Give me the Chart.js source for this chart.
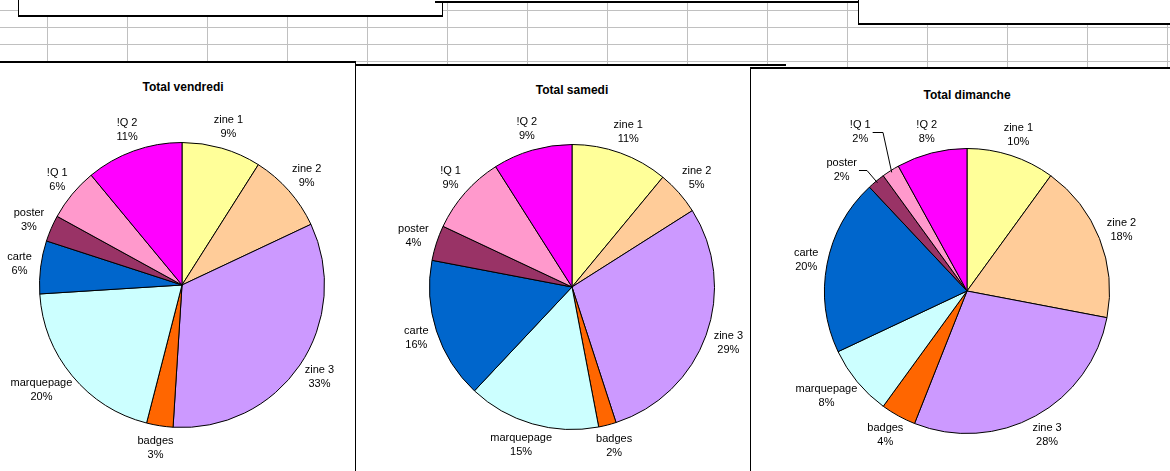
<!DOCTYPE html>
<html>
<head>
<meta charset="utf-8">
<script src="https://cdn.jsdelivr.net/npm/chart.js@4"></script>
<style>
  body { margin: 0; width: 1170px; height: 471px; overflow: hidden; position: relative;
         background-color: #fff;
         background-image:
           linear-gradient(to right, #c0c0c0 1px, transparent 1px),
           linear-gradient(to bottom, #c0c0c0 1px, transparent 1px);
         background-size: 80px 17px;
         background-position: 47px 10px;
         font-family: "Liberation Sans", Arial, sans-serif; }
  .box { position: absolute; background: #fff; border: 1px solid #000; box-sizing: border-box; }
  .panel { position: absolute; background: #fff; border-top: 2px solid #000; border-left: 1px solid #000; }
  .title { position: absolute; font-weight: bold; font-size: 12px; width: 300px; text-align: center; }
  canvas { position: absolute; left: 0; top: 0; }
</style>
</head>
<body>
<div class="box" style="left:18px;top:-2px;width:425px;height:19px;border-width:0 1px 2px 1px;"></div>
<div class="box" style="left:435px;top:-2px;width:424px;height:5px;border-width:0 0 2px 0;"></div>
<div class="box" style="left:858px;top:-2px;width:320px;height:27px;border-width:0 0 2px 1px;"></div>

<div class="panel" style="left:-1px;top:61px;width:356px;height:420px;border-left:0;border-right:1px solid #000;">
  <div class="title" style="left:34px;top:17px;">Total vendredi</div>
  <canvas id="c1"></canvas>
</div>
<div class="panel" style="left:355px;top:64px;width:430px;height:420px;">
  <div class="title" style="left:66px;top:17px;">Total samedi</div>
  <canvas id="c2"></canvas>
</div>
<div class="panel" style="left:750px;top:67px;width:430px;height:420px;">
  <div class="title" style="left:66px;top:19px;">Total dimanche</div>
  <canvas id="c3"></canvas>
</div>

<script>
// categories and colours (clockwise from the top)
const categories = ["zine 1", "zine 2", "zine 3", "badges", "marquepage", "carte", "poster", "!Q 1", "!Q 2"];
const sliceColors = ["#FFFF99", "#FFCC99", "#CC99FF", "#FF6600", "#CCFFFF", "#0066CC", "#993366", "#FF99CC", "#FF00FF"];

// percentages
const vendredi = [9, 9, 33, 3, 20, 6, 3, 6, 11];
const samedi = [11, 5, 29, 2, 15, 16, 4, 9, 9];
const dimanche = [10, 18, 28, 4, 8, 20, 2, 2, 8];

// draws "name / nn%" outside each slice, with leader lines for moved labels
const outsideLabels = {
    id: "outsideLabels",
    afterDraw(chart, args, opts) {
        const ctx = chart.ctx;
        const meta = chart.getDatasetMeta(0);
        const data = chart.data.datasets[0].data;
        const total = data.reduce((a, b) => a + b, 0);
        const moved = opts.moved || {};
        ctx.save();
        ctx.font = "11px 'Liberation Sans', Arial, sans-serif";
        ctx.fillStyle = "#000";
        ctx.strokeStyle = "#000";
        ctx.lineWidth = 1;
        ctx.textAlign = "center";
        ctx.textBaseline = "middle";
        meta.data.forEach((arc, i) => {
            const name = chart.data.labels[i];
            const pct = Math.round(data[i] / total * 100) + "%";
            const mid = (arc.startAngle + arc.endAngle) / 2;
            const c = Math.cos(mid), s = Math.sin(mid);
            const w = Math.max(ctx.measureText(name).width, ctx.measureText(pct).width) + 4;
            const d = arc.outerRadius + 7;
            let x = arc.x + c * d + c * w / 2;
            let y = arc.y + s * d + s * 15;
            const m = moved[name];
            if (m) {
                x += m[0]; y += m[1];
                const ex = arc.x + c * (arc.outerRadius - 2);
                const ey = arc.y + s * (arc.outerRadius - 2);
                const sx = x + w / 2, sy = Math.round(y) + 0.5;
                ctx.beginPath();
                ctx.moveTo(sx, sy);
                ctx.lineTo(arc.x + m[2], sy);
                ctx.lineTo(ex, ey);
                ctx.stroke();
            }
            ctx.fillText(name, x, y - 7);
            ctx.fillText(pct, x, y + 7);
        });
        ctx.restore();
    }
};

function makePie(id, values, w, h, pad, moved) {
    const el = document.getElementById(id);
    el.width = w; el.height = h;
    el.style.width = w + "px"; el.style.height = h + "px";
    new Chart(el, {
        type: "pie",
        data: {
            labels: categories,
            datasets: [{
                data: values,
                backgroundColor: sliceColors,
                borderColor: "#000",
                borderWidth: 1
            }]
        },
        options: {
            responsive: false,
            animation: false,
            layout: { padding: pad },
            plugins: {
                legend: { display: false },
                tooltip: { enabled: false },
                outsideLabels: { moved: moved }
            }
        },
        plugins: [outsideLabels]
    });
}

makePie("c1", vendredi, 355, 409, { left: 40, right: 29, top: 79, bottom: 44 });
makePie("c2", samedi, 395, 406, { left: 73, right: 36, top: 78, bottom: 42 });
makePie("c3", dimanche, 420, 403, { left: 73, right: 61, top: 79, bottom: 38 },
    { "!Q 1": [-20, -20, -84], "poster": [-19, 6, -100] });
</script>
</body>
</html>
